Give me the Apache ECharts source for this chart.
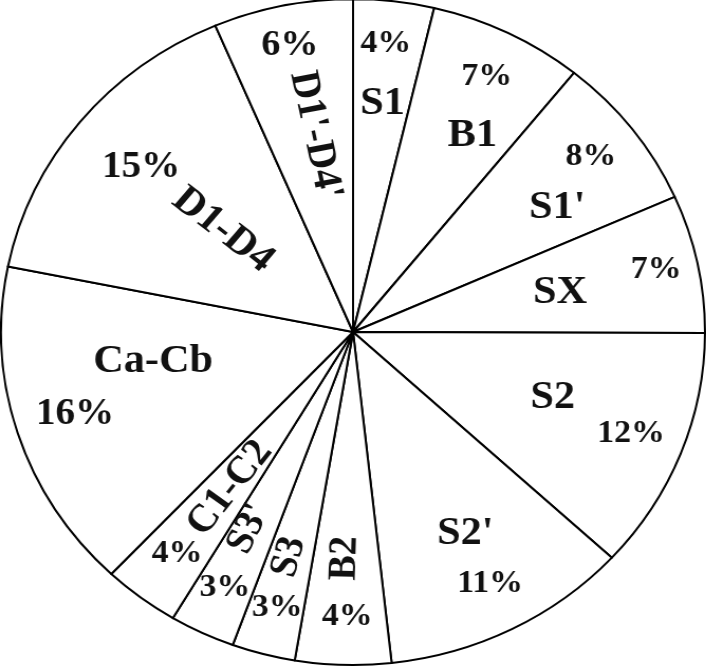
<!DOCTYPE html>
<html>
<head>
<meta charset="utf-8">
<script src="https://cdn.jsdelivr.net/npm/echarts@6/dist/echarts.min.js"></script>
<style>
html, body { margin: 0; padding: 0; background: #fff; overflow: hidden; }
/* the original pie is slightly wider than tall */
#pie { position: absolute; left: 0; top: 0; width: 668px; height: 669px; transform: scaleX(1.057); transform-origin: 0 0; }
</style>
</head>
<body>
<div id="pie"></div>
<script>
// slices clockwise from 12 o'clock
var names = ['S1', 'B1', "S1'", 'SX', 'S2', "S2'", 'B2', 'S3', "S3'", 'C1-C2', 'Ca-Cb', 'D1-D4', "D1'-D4'"];
var shares = [3.7, 7.1, 7.55, 6.7, 11.8, 11.4, 4.4, 2.9, 3.0, 3.5, 16.1, 15.45, 6.4];

// label placement: radius as part of pie radius, shift (deg) from slice middle
var nameR = [0.69, 0.68, 0.69, 0.60, 0.60, 0.685, 0.68, 0.70, 0.66, 0.585, 0.575, 0.48, 0.60];
var nameShift = [-0.3, -3.8, -4.7, -0.6, 2.3, 0.9, -0.3, -0.3, -1.2, 0.4, -8.6, -0.5, -1.2];
var nameSize = [40, 40, 40, 40, 40, 40, 38, 38, 38, 39, 40, 40, 39];
var pctR = [0.87, 0.855, 0.857, 0.881, 0.847, 0.851, 0.856, 0.857, 0.85, 0.833, 0.827, 0.778, 0.877];
var pctShift = [0.5, -0.3, 0.4, 0.3, 0.2, 0.4, 0.5, 0.2, 0, 0.2, -0.3, -0.15, 0.3];
var pctSize = [32, 32, 32, 32, 32, 32, 32, 32, 32, 32, 37, 37, 36];
var radial = [false, false, false, false, false, false, true, true, true, true, false, true, true];

var cx = 334, cy = 332, R = 333;
var font = 'Liberation Serif';

var total = 0;
shares.forEach(function (v) { total += v; });
var mids = [];
var a = 90;
shares.forEach(function (v) {
    var sweep = v / total * 360;
    mids.push(a - sweep / 2);
    a -= sweep;
});

function makeData(sizes) {
    return names.map(function (n, i) {
        return { name: n, value: shares[i], label: { fontSize: sizes[i] } };
    });
}

function place(rList, shiftList, turn) {
    return function (p) {
        var i = p.dataIndex;
        var ang = (mids[i] + shiftList[i]) * Math.PI / 180;
        var rot = 0;
        if (turn && radial[i]) {
            rot = mids[i] + 180;
            while (rot > 90) rot -= 180;
            while (rot <= -90) rot += 180;
        }
        return {
            x: cx + rList[i] * R * Math.cos(ang),
            y: cy - rList[i] * R * Math.sin(ang),
            align: 'center',
            verticalAlign: 'middle',
            rotate: rot
        };
    };
}

var myChart = echarts.init(document.getElementById('pie'));
myChart.setOption({
    animation: false,
    series: [
        {
            type: 'pie',
            center: [cx, cy],
            radius: [0, R],
            startAngle: 90,
            clockwise: true,
            data: makeData(nameSize),
            itemStyle: { color: '#fff', borderColor: '#000', borderWidth: 2 },
            label: {
                show: true,
                position: 'inside',
                formatter: '{b}',
                fontFamily: font,
                fontWeight: 'bold',
                color: '#111'
            },
            labelLine: { show: false },
            labelLayout: place(nameR, nameShift, true),
            emphasis: { disabled: true }
        },
        {
            type: 'pie',
            silent: true,
            center: [cx, cy],
            radius: [0, R],
            startAngle: 90,
            clockwise: true,
            percentPrecision: 0,
            data: makeData(pctSize),
            itemStyle: { color: 'rgba(0,0,0,0)', borderWidth: 0 },
            label: {
                show: true,
                position: 'inside',
                formatter: '{d}%',
                fontFamily: font,
                fontWeight: 'bold',
                color: '#111'
            },
            labelLine: { show: false },
            labelLayout: place(pctR, pctShift, false),
            emphasis: { disabled: true }
        }
    ]
});
</script>
</body>
</html>
